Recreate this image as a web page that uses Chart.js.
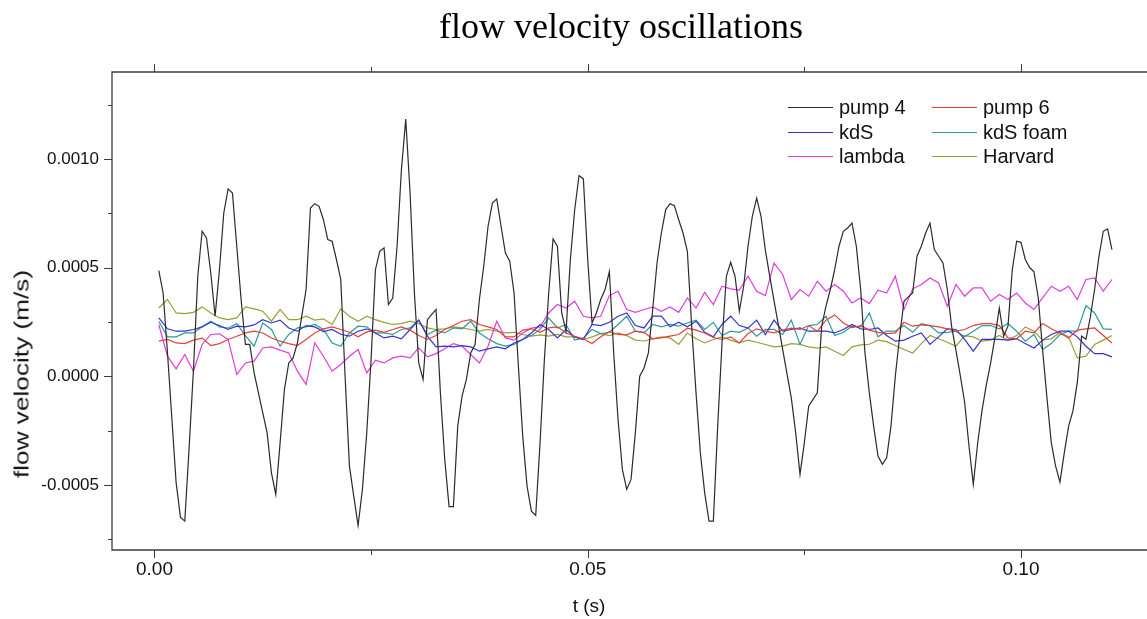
<!DOCTYPE html>
<html><head><meta charset="utf-8">
<script src="https://cdn.jsdelivr.net/npm/chart.js@4.4.1/dist/chart.umd.min.js"></script>
<style>
html,body{margin:0;padding:0;background:#fff;overflow:hidden;width:1147px;height:619px;}
#wrap{position:relative;width:1170px;height:619px;}
canvas{display:block;}
.txt{position:absolute;font-family:"Liberation Sans",Arial,sans-serif;color:#111;white-space:nowrap;}
#title{left:0;width:1242px;top:5px;text-align:center;font-family:"Liberation Serif","Times New Roman",serif;font-size:36px;line-height:43px;color:#000;}
#xtitle{left:489px;width:200px;top:594px;text-align:center;font-size:19px;line-height:23px;}
#ytitle{left:22px;top:374px;font-size:20px;line-height:23px;transform:translate(-50%,-50%) rotate(-90deg) scale(1.31,1);}
#legend{position:absolute;left:0;top:0;font-family:"Liberation Sans",Arial,sans-serif;font-size:20px;color:#111;}
.li{position:absolute;height:24px;line-height:24px;white-space:nowrap;}
.sw{display:inline-block;width:45px;height:1.4px;vertical-align:middle;margin-right:6px;position:relative;top:-1px;}
</style></head><body>
<div id="wrap">
<canvas id="c" width="1170" height="619"></canvas>
<div id="title" class="txt">flow velocity oscillations</div>
<div id="xtitle" class="txt">t (s)</div>
<div id="ytitle" class="txt">flow velocity (m/s)</div>
<div id="legend"></div>
</div>
<script>
// ---- data (velocities in m/s) ----
const seriesNames = ['pump 4', 'pump 6', 'kdS', 'kdS foam', 'lambda', 'Harvard'];
const seriesColors = ['#2b2b2b', '#e4413a', '#3535cc', '#2e9a9a', '#e03ce0', '#9c9c3a'];

// pump 4 sampled every 0.0005 s starting at t = 0.0005 s
const pump4Start = 0.0005, pump4Step = 0.0005;
const pump4 = [
4.86e-4,3.83e-4,1.1e-4,-1.9e-4,-4.9e-4,-6.5e-4,-6.67e-4,-3.3e-4,0.3e-4,4.6e-4,
6.67e-4,6.36e-4,4.75e-4,2.76e-4,4.9e-4,7.51e-4,8.62e-4,8.43e-4,5.98e-4,3.53e-4,
1.46e-4,1.46e-4,0.15e-4,-0.77e-4,-1.69e-4,-2.6e-4,-4.45e-4,-5.44e-4,-3.07e-4,-0.61e-4,
0.61e-4,0.84e-4,1.53e-4,2.76e-4,3.99e-4,7.74e-4,7.94e-4,7.82e-4,7.2e-4,6.29e-4,
6.21e-4,5.37e-4,4.45e-4,0.0,-4.14e-4,-5.52e-4,-6.87e-4,-5.21e-4,-2.6e-4,0.77e-4,
4.9e-4,5.75e-4,5.9e-4,3.3e-4,3.6e-4,5.98e-4,9.5e-4,11.83e-4,8.43e-4,3.83e-4,
0.61e-4,-0.15e-4,2.6e-4,2.84e-4,3.07e-4,-0.77e-4,-3.83e-4,-6.0e-4,-6.0e-4,-2.3e-4,
-0.92e-4,-0.15e-4,1.07e-4,1.46e-4,3.53e-4,5.06e-4,6.9e-4,7.97e-4,8.16e-4,6.9e-4,
5.67e-4,5.29e-4,3.83e-4,0.46e-4,-2.76e-4,-5.06e-4,-6.21e-4,-6.41e-4,-3.07e-4,0.77e-4,
3.83e-4,6.32e-4,5.98e-4,2.91e-4,2.07e-4,5.37e-4,7.67e-4,9.23e-4,9.08e-4,5.37e-4,
2.45e-4,2.91e-4,3.53e-4,3.99e-4,4.81e-4,1.07e-4,-1.99e-4,-4.29e-4,-5.21e-4,-4.75e-4,
-2.6e-4,0.0,0.38e-4,1.07e-4,3.07e-4,5.21e-4,6.59e-4,7.67e-4,7.94e-4,7.85e-4,
7.2e-4,6.59e-4,5.75e-4,2.3e-4,-0.77e-4,-3.53e-4,-5.37e-4,-6.67e-4,-6.67e-4,-2.3e-4,
1.53e-4,4.6e-4,5.24e-4,4.6e-4,2.99e-4,4.14e-4,5.98e-4,7.36e-4,8.2e-4,7.36e-4,
5.8e-4,4.62e-4,3.48e-4,2.36e-4,1.23e-4,0.11e-4,-1.01e-4,-2.6e-4,-4.52e-4,-3.07e-4,
-1.38e-4,-1.07e-4,-0.77e-4,2.3e-4,3.22e-4,3.99e-4,4.9e-4,5.98e-4,6.67e-4,6.82e-4,
7.05e-4,5.98e-4,3.99e-4,1.07e-4,-0.77e-4,-2.3e-4,-3.68e-4,-4.06e-4,-3.76e-4,-2.3e-4,
0.0,1.84e-4,3.45e-4,3.65e-4,3.83e-4,5.52e-4,5.98e-4,6.59e-4,7.05e-4,5.83e-4,
5.52e-4,5.21e-4,3.99e-4,2.28e-4,1.18e-4,0.03e-4,-1.2e-4,-3.2e-4,-4.98e-4,-3.1e-4,
-1.6e-4,-0.4e-4,0.6e-4,1.8e-4,3.14e-4,1.84e-4,2.3e-4,4.9e-4,6.21e-4,6.16e-4,
5.37e-4,5.0e-4,4.8e-4,3.6e-4,1.2e-4,-1.0e-4,-3.07e-4,-4.14e-4,-4.87e-4,-3.53e-4,
-2.3e-4,-1.6e-4,-0.3e-4,1.84e-4,1.7e-4,2.7e-4,4.0e-4,5.5e-4,6.67e-4,6.78e-4,
5.83e-4
];

// other probes read every 0.001 s starting at t = 0.0005 s
const probeStart = 0.0005, probeStep = 0.001;
const pump6 = [
1.61e-4,1.69e-4,1.53e-4,1.5e-4,1.66e-4,1.75e-4,1.41e-4,1.5e-4,1.69e-4,1.84e-4,1.99e-4,2.07e-4,1.99e-4,1.76e-4,1.61e-4,1.5e-4,1.41e-4,1.69e-4,1.99e-4,2.18e-4,2.27e-4,2.15e-4,2.02e-4,
1.81e-4,2.04e-4,2.12e-4,2.02e-4,2.15e-4,2.27e-4,2.12e-4,1.87e-4,1.69e-4,1.87e-4,2.15e-4,2.33e-4,2.53e-4,2.6e-4,2.38e-4,2.27e-4,2.15e-4,1.81e-4,1.81e-4,2.12e-4,2.18e-4,2.02e-4,2.22e-4,
2.27e-4,1.99e-4,1.84e-4,1.72e-4,1.5e-4,1.81e-4,2.05e-4,1.92e-4,1.9e-4,2.07e-4,2.02e-4,1.72e-4,1.76e-4,1.84e-4,1.92e-4,2.21e-4,2.12e-4,1.99e-4,1.78e-4,1.69e-4,1.81e-4,1.53e-4,1.96e-4,
2.18e-4,2.07e-4,1.99e-4,2.12e-4,2.21e-4,2.15e-4,2.33e-4,2.07e-4,2.58e-4,2.82e-4,2.45e-4,2.24e-4,2.33e-4,2.12e-4,2.02e-4,1.96e-4,1.99e-4,2.48e-4,2.3e-4,2.36e-4,2.33e-4,2.27e-4,2.18e-4,
2.07e-4,2.15e-4,2.33e-4,2.42e-4,2.42e-4,2.33e-4,1.76e-4,1.72e-4,2.07e-4,1.99e-4,2.42e-4,2.18e-4,1.99e-4,1.76e-4,2.12e-4,2.18e-4,2.22e-4,1.87e-4,1.53e-4
];
const kdS = [
2.68e-4,2.18e-4,2.07e-4,2.07e-4,2.15e-4,2.27e-4,2.48e-4,2.33e-4,2.15e-4,2.3e-4,2.27e-4,2.36e-4,2.6e-4,2.45e-4,2.58e-4,2.22e-4,2.07e-4,2.33e-4,2.27e-4,2.05e-4,2.15e-4,1.93e-4,1.84e-4,
2.07e-4,2.18e-4,1.99e-4,1.76e-4,1.84e-4,1.72e-4,2.15e-4,2.58e-4,1.84e-4,1.35e-4,1.38e-4,1.35e-4,1.41e-4,1.35e-4,1.15e-4,1.26e-4,1.35e-4,1.26e-4,1.53e-4,1.69e-4,1.99e-4,2.38e-4,2.15e-4,
1.76e-4,2.15e-4,1.81e-4,1.69e-4,2.38e-4,2.33e-4,2.48e-4,2.76e-4,2.91e-4,2.33e-4,2.22e-4,2.76e-4,2.76e-4,2.27e-4,2.48e-4,2.27e-4,2.53e-4,2.02e-4,1.81e-4,2.38e-4,2.76e-4,2.33e-4,2.21e-4,
2.58e-4,1.92e-4,2.58e-4,2.07e-4,2.15e-4,2.22e-4,2.07e-4,2.07e-4,2.07e-4,1.99e-4,2.15e-4,2.38e-4,2.18e-4,2.15e-4,2.22e-4,1.87e-4,1.61e-4,1.66e-4,1.84e-4,1.99e-4,1.46e-4,1.81e-4,2.18e-4,
2.15e-4,1.69e-4,1.15e-4,1.69e-4,1.69e-4,1.69e-4,1.66e-4,1.72e-4,1.5e-4,1.3e-4,1.66e-4,1.92e-4,2.07e-4,2.07e-4,1.81e-4,1.38e-4,1.04e-4,1.04e-4,0.89e-4
];
const kdSFoam = [
2.53e-4,1.81e-4,1.81e-4,1.99e-4,1.99e-4,2.27e-4,2.53e-4,2.27e-4,2.21e-4,2.42e-4,1.87e-4,1.38e-4,2.45e-4,2.15e-4,1.38e-4,1.92e-4,2.22e-4,2.27e-4,2.38e-4,2.15e-4,1.53e-4,1.38e-4,1.99e-4,
2.3e-4,2.27e-4,1.99e-4,1.99e-4,1.92e-4,2.15e-4,2.22e-4,2.58e-4,1.92e-4,2.12e-4,1.99e-4,2.22e-4,2.18e-4,2.53e-4,1.99e-4,1.72e-4,1.5e-4,1.38e-4,1.46e-4,1.69e-4,1.87e-4,2.15e-4,2.68e-4,
2.22e-4,2.38e-4,1.66e-4,1.76e-4,2.15e-4,1.96e-4,2.02e-4,2.38e-4,2.76e-4,2.07e-4,1.99e-4,2.38e-4,2.27e-4,2.38e-4,2.3e-4,2.45e-4,2.58e-4,2.15e-4,2.48e-4,1.87e-4,2.07e-4,2.02e-4,2.22e-4,
1.84e-4,2.15e-4,2.15e-4,1.92e-4,2.58e-4,1.46e-4,2.33e-4,2.38e-4,2.76e-4,1.87e-4,2.02e-4,2.3e-4,2.27e-4,2.91e-4,1.81e-4,2.07e-4,2.07e-4,2.33e-4,2.02e-4,2.42e-4,2.33e-4,1.99e-4,2.02e-4,
2.07e-4,1.81e-4,2.07e-4,2.33e-4,2.33e-4,2.18e-4,2.42e-4,2.07e-4,1.61e-4,1.92e-4,1.23e-4,1.5e-4,1.92e-4,2.07e-4,2.07e-4,3.25e-4,2.91e-4,2.18e-4,2.15e-4
];
const lambda = [
2.38e-4,0.92e-4,0.34e-4,1.0e-4,0.23e-4,1.46e-4,1.92e-4,1.95e-4,1.69e-4,0.08e-4,0.61e-4,0.69e-4,1.3e-4,1.35e-4,1.2e-4,1.07e-4,0.23e-4,-0.38e-4,1.53e-4,0.92e-4,0.23e-4,0.54e-4,0.92e-4,
1.23e-4,0.15e-4,0.74e-4,0.61e-4,0.84e-4,0.92e-4,0.84e-4,1.3e-4,0.89e-4,1.04e-4,1.26e-4,1.5e-4,1.38e-4,1.0e-4,0.61e-4,1.38e-4,2.53e-4,1.76e-4,1.66e-4,1.99e-4,2.21e-4,2.27e-4,2.91e-4,
3.3e-4,3.14e-4,3.45e-4,2.76e-4,2.68e-4,2.76e-4,3.71e-4,3.91e-4,3.07e-4,2.94e-4,3.07e-4,3.19e-4,2.99e-4,3.19e-4,2.94e-4,3.6e-4,3.14e-4,3.86e-4,3.3e-4,4.14e-4,4.02e-4,3.96e-4,4.6e-4,
3.91e-4,3.71e-4,5.2e-4,4.68e-4,3.53e-4,3.99e-4,3.68e-4,4.37e-4,3.91e-4,4.22e-4,3.91e-4,3.37e-4,3.6e-4,3.34e-4,3.96e-4,3.83e-4,4.6e-4,3.07e-4,4.02e-4,4.22e-4,4.52e-4,4.29e-4,3.22e-4,
4.22e-4,3.68e-4,4.06e-4,4.06e-4,3.45e-4,3.76e-4,3.53e-4,3.83e-4,3.37e-4,3.07e-4,3.6e-4,4.14e-4,3.91e-4,4.14e-4,3.53e-4,4.45e-4,4.52e-4,3.91e-4,4.45e-4
];
const harvard = [
3.14e-4,3.53e-4,2.91e-4,2.88e-4,2.94e-4,3.19e-4,2.91e-4,2.68e-4,2.6e-4,2.68e-4,3.19e-4,3.1e-4,2.99e-4,2.53e-4,3.07e-4,2.6e-4,2.6e-4,2.76e-4,2.58e-4,2.64e-4,2.38e-4,3.1e-4,2.76e-4,
2.53e-4,2.76e-4,2.6e-4,2.48e-4,2.38e-4,2.42e-4,2.53e-4,2.42e-4,2.22e-4,2.15e-4,2.18e-4,2.27e-4,2.22e-4,2.15e-4,2.07e-4,2.15e-4,2.07e-4,1.99e-4,2.02e-4,1.92e-4,1.84e-4,1.9e-4,1.84e-4,
1.92e-4,1.81e-4,1.81e-4,1.69e-4,1.81e-4,1.96e-4,1.87e-4,1.99e-4,1.87e-4,1.66e-4,1.62e-4,1.72e-4,1.81e-4,1.76e-4,1.46e-4,1.99e-4,1.72e-4,1.53e-4,1.69e-4,1.81e-4,1.66e-4,1.53e-4,1.66e-4,
1.56e-4,1.46e-4,1.35e-4,1.38e-4,1.5e-4,1.46e-4,1.35e-4,1.29e-4,1.35e-4,1.15e-4,0.95e-4,1.35e-4,1.44e-4,1.47e-4,1.66e-4,1.59e-4,1.41e-4,1.23e-4,1.07e-4,1.5e-4,1.87e-4,1.72e-4,1.56e-4,
1.38e-4,1.87e-4,1.81e-4,1.61e-4,1.66e-4,1.87e-4,1.66e-4,1.87e-4,2.27e-4,2.07e-4,1.66e-4,1.72e-4,2.02e-4,1.81e-4,0.84e-4,0.92e-4,1.46e-4,1.66e-4,1.87e-4
];

// axis ticks
const xMajorTicks = [0, 0.05, 0.10];
const xMinorTicks = [0.025, 0.075];
const yMajorTicks = [-0.0005, 0, 0.0005, 0.0010];
const yMinorTicks = [-0.00075, -0.00025, 0.00025, 0.00075, 0.00125];

// ---- build ----
const toPoints = (vals, start, step) => vals.map((v, i) => ({x: start + i * step, y: v}));
const seriesData = [
  toPoints(pump4, pump4Start, pump4Step),
  toPoints(pump6, probeStart, probeStep),
  toPoints(kdS, probeStart, probeStep),
  toPoints(kdSFoam, probeStart, probeStep),
  toPoints(lambda, probeStart, probeStep),
  toPoints(harvard, probeStart, probeStep)
];
const datasets = seriesNames.map((n, i) => ({
  label: n, data: seriesData[i], borderColor: seriesColors[i], backgroundColor: seriesColors[i],
  borderWidth: 1.2, pointRadius: 0, tension: 0, fill: false
}));

const frameColor = '#3c3c3c';
const framePlugin = {
  id: 'frame',
  afterDatasetsDraw(chart) {
    const {ctx, chartArea: a, scales: {x, y}} = chart;
    ctx.save();
    ctx.strokeStyle = frameColor;
    ctx.lineWidth = 1.3;
    ctx.beginPath();
    ctx.moveTo(chart.width, a.top); ctx.lineTo(a.left, a.top);
    ctx.lineTo(a.left, a.bottom); ctx.lineTo(chart.width, a.bottom);
    ctx.stroke();
    ctx.lineWidth = 1;
    const xt = (vals, len) => vals.forEach(v => {
      const px = Math.round(x.getPixelForValue(v)) + 0.5;
      ctx.beginPath(); ctx.moveTo(px, a.bottom); ctx.lineTo(px, a.bottom + len); ctx.stroke();
      ctx.beginPath(); ctx.moveTo(px, a.top); ctx.lineTo(px, a.top - len); ctx.stroke();
    });
    const yt = (vals, len) => vals.forEach(v => {
      const py = Math.round(y.getPixelForValue(v)) + 0.5;
      ctx.beginPath(); ctx.moveTo(a.left, py); ctx.lineTo(a.left - len, py); ctx.stroke();
    });
    xt(xMajorTicks, 8); xt(xMinorTicks, 5);
    yt(yMajorTicks, 8); yt(yMinorTicks, 4);
    ctx.restore();
  }
};

const yTickFont = {family: '"Liberation Sans", Arial, sans-serif', size: 17};
const xTickFont = {family: '"Liberation Sans", Arial, sans-serif', size: 19};
const chart = new Chart(document.getElementById('c'), {
  type: 'line',
  data: {datasets},
  options: {
    responsive: false, animation: false,
    layout: {padding: {left: 0, right: 0, top: 72, bottom: 0}},
    plugins: {legend: {display: false}, tooltip: {enabled: false}, title: {display: false}},
    scales: {
      x: {
        type: 'linear', min: -0.0049, max: 0.1172,
        afterFit(s) { s.height = 69; },
        grid: {display: false, drawTicks: false}, border: {display: false},
        ticks: {stepSize: 0.05, includeBounds: false, padding: 8, maxRotation: 0, autoSkip: false,
          font: xTickFont, color: '#111', callback: v => Number(v).toFixed(2)}
      },
      y: {
        type: 'linear', min: -0.0008, max: 0.0014,
        afterFit(s) { s.width = 112; },
        grid: {display: false, drawTicks: false}, border: {display: false},
        ticks: {stepSize: 0.0005, includeBounds: false, padding: 13, autoSkip: false,
          font: yTickFont, color: '#111', callback: v => Number(v).toFixed(4)}
      }
    }
  },
  plugins: [framePlugin]
});

// HTML legend built from datasets
const leg = document.getElementById('legend');
chart.data.datasets.forEach((ds, i) => {
  const col = i % 2, row = Math.floor(i / 2);
  const item = document.createElement('div');
  item.className = 'li';
  item.style.left = (788 + col * 144) + 'px';
  item.style.top = (95 + row * 24.5) + 'px';
  const sw = document.createElement('span');
  sw.className = 'sw'; sw.style.backgroundColor = ds.borderColor;
  item.appendChild(sw);
  item.appendChild(document.createTextNode(ds.label));
  leg.appendChild(item);
});
</script>
</body></html>
